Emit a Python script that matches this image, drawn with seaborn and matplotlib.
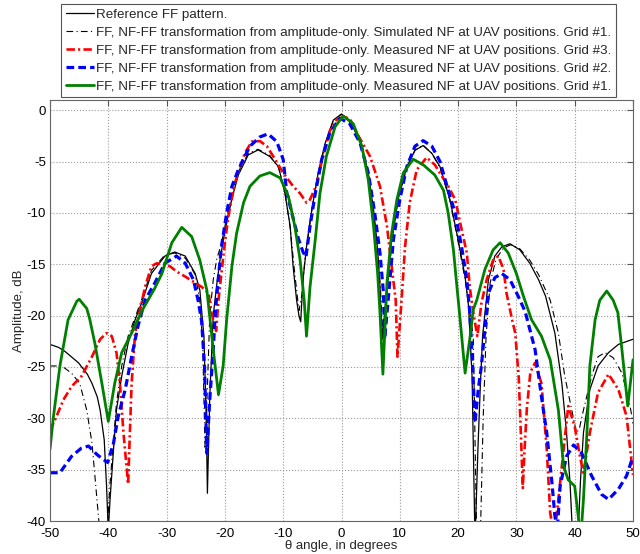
import numpy as np
import pandas as pd
import matplotlib
matplotlib.use("Agg")
import matplotlib.pyplot as plt
import seaborn as sns

# reference far-field pattern (black solid)
ref_theta = [-50, -48.5, -47.4, -45.1, -43.6, -42.8, -41.9, -41.4, -40.7, -40.3, -40.0, -39.7, -39.1, -38.6,
             -37.7, -36.6, -35.4, -34.3, -32.6, -30.3, -28.6, -26.8, -25.1, -24.3, -23.6, -23.2,
             -23.0, -22.6, -22.0, -21.4, -20.8, -20.0, -18.8, -17.7, -16.0, -14.3, -12.3, -10.8,
             -9.7, -8.8, -8.3, -7.7, -7.3, -7.0, -6.6, -6.0, -5.1, -4.0, -2.8, -1.4, 0.0, 1.4,
             3.2, 4.6, 5.5, 6.2, 6.6, 7.0, 7.8, 8.6, 9.7, 11.2, 12.6, 14.0, 15.5, 16.9, 18.6,
             20.0, 21.2, 21.8, 22.4, 22.9, 23.4, 23.8, 24.2, 25.2, 26.3, 27.5, 28.9, 30.6, 32.3,
             33.8, 35.0, 36.6, 37.8, 38.6, 39.2, 39.6, 40.6, 41.0, 41.5, 42.6, 44.0, 45.8, 47.5, 50]
ref_db = [-22.8, -23.1, -23.5, -24.6, -25.7, -26.6, -27.9, -29.2, -32.1, -36.6, -41, -37.9, -33.0, -29.2,
          -25.9, -22.7, -20.4, -18.8, -15.9, -14.2, -13.8, -14.2, -15.9, -17.5, -22.0, -30.0,
          -37.3, -28.0, -20.0, -17.0, -14.4, -11.8, -8.6, -6.3, -4.35, -3.86, -4.5, -5.5,
          -8.1, -11.3, -15.2, -18.5, -20.0, -20.6, -16.5, -13.3, -9.7, -6.1, -3.2, -0.95, -0.36, -1.1,
          -2.9, -6.1, -9.7, -13.6, -17.2, -22.3, -17.2, -12.6, -8.7, -5.5, -3.9, -3.44, -4.2, -5.5, -8.7,
          -12.6, -16.2, -19.1, -26.0, -42, -33.0, -27.0, -22.0, -16.5, -14.2, -13.3, -13.0, -13.6, -14.9,
          -16.5, -18.1, -21.7, -26.6, -31.4, -36.3, -41, -41, -36.0, -31.4, -27.2, -24.9, -23.6, -22.8, -22.3]

# simulated NF, grid #1 (black dash-dot)
sim_theta = [-50, -48.0, -46.3, -44.9, -43.7, -42.8, -42.3, -41.7, -41.3, -40.3, -39.7, -39.1,
             -38.6, -37.7, -36.6, -35.1, -34.0, -32.6, -30.3, -28.6, -26.8, -25.1, -24.3, -23.8,
             -23.4, -23.0, -22.6, -22.0, -21.4, -20.6, -20.0, -18.8, -17.7, -16.0, -14.3, -12.3,
             -10.8, -9.7, -8.8, -8.0, -7.3, -6.8, -6.2, -5.1, -4.0, -2.8, -1.4, 0.0, 1.4, 3.2,
             4.6, 5.5, 6.2, 6.7, 7.1, 7.8, 8.6, 9.7, 11.2, 12.6, 14.0, 15.5, 16.9, 18.6, 20.0,
             21.2, 22.0, 22.6, 23.2, 23.8, 24.3, 24.8, 25.5, 26.5, 27.8, 29.0, 30.6, 32.3, 33.8,
             35.0, 35.8, 37.2, 38.3, 39.5, 40.3, 40.8, 41.5, 42.9, 44.0, 45.2, 46.6, 48.1, 49.5, 50]
sim_db = [-24.9, -24.9, -25.6, -26.6, -29.2, -32.4, -35.6, -39.5, -42, -42, -36.3, -32.1,
          -28.5, -24.9, -22.0, -19.7, -18.0, -15.6, -14.1, -13.9, -14.4, -16.0, -18.5, -23.0,
          -33.0, -27.0, -20.0, -16.5, -14.5, -13.0, -11.3, -8.2, -6.0, -4.2, -3.8, -4.4,
          -5.6, -8.0, -11.5, -16.0, -19.5, -18.0, -14.0, -9.8, -6.2, -3.3, -1.0, -0.4, -1.1, -3.0,
          -6.2, -9.8, -13.8, -17.5, -22.0, -17.5, -12.8, -8.8, -5.6, -3.9, -3.4, -4.2, -5.6, -8.8, -12.8,
          -16.5, -19.6, -22.0, -42, -42, -30.0, -22.0, -16.8, -14.5, -13.4, -13.1, -13.5, -14.6, -16.0,
          -17.5, -18.5, -21.7, -25.9, -29.2, -31.4, -31.0, -29.2, -25.9, -24.0, -23.6, -24.1, -25.6, -28.8, -30.5]

# measured NF, grid #3 (red dash-dot)
g3_theta = [-50, -49.1, -47.7, -46.3, -44.6, -42.8, -41.4, -40.3, -39.4, -38.6, -38.0, -37.4,
            -36.6, -36.3, -36.0, -35.4, -34.3, -33.7, -32.6, -31.7, -30.5, -29.4, -28.3, -26.8,
            -25.4, -24.0, -22.8, -22.3, -21.5, -21.1, -20.6, -20.0, -19.4, -18.3, -16.6, -15.4,
            -14.0, -12.8, -11.7, -10.0, -8.3, -7.1, -6.0, -5.4, -4.3, -3.4, -2.0, -0.8, 0.5, 1.5,
            2.6, 4.9, 6.6, 7.8, 8.6, 9.3, 9.6, 10.3, 10.9, 11.7, 12.9, 14.6, 16.0, 18.3, 19.5,
            20.6, 21.5, 22.0, 22.6, 23.3, 24.0, 24.9, 26.0, 26.9, 27.8, 28.3, 29.3, 29.8, 30.4,
            30.8, 31.1, 31.4, 31.8, 32.4, 33.2, 34.3, 35.2, 35.8, 36.3, 36.8, 37.2, 38.1, 38.9,
            40.0, 40.9, 41.5, 42.6, 44.0, 45.8, 47.5, 48.9, 50]
g3_db = [-31.2, -30.1, -28.2, -26.9, -25.9, -24.0, -22.3, -21.7, -22.0, -23.6, -26.6, -31.4,
         -36.4, -31.4, -26.6, -21.7, -18.8, -17.2, -15.2, -14.9, -15.0, -15.2, -15.7, -16.2,
         -16.7, -17.2, -17.8, -19.7, -21.5, -18.5, -15.9, -12.9, -10.3, -7.1, -4.2, -3.05,
         -3.0, -3.5, -4.5, -6.1, -7.4, -8.1, -9.0, -8.7, -7.3, -5.0, -2.0, -0.9, -0.6, -0.9,
         -2.2, -4.5, -7.4, -11.3, -15.2, -18.5, -24.0, -18.5, -13.3, -9.0, -5.8, -4.6, -5.3, -7.4, -8.7,
         -11.6, -13.9, -17.2, -19.7, -22.0, -18.8, -16.5, -14.6, -14.2, -15.5, -17.8, -20.5, -21.7, -26.0,
         -32.0, -36.8, -33.0, -29.0, -25.5, -24.6, -26.6, -33.0, -39.2, -41, -40.0, -37.9, -33.0, -28.8,
         -30.8, -33.7, -35.3, -31.4, -27.5, -25.7, -27.2, -29.8, -35.5]

# measured NF, grid #2 (blue dashed)
g2_theta = [-50, -48.3, -46.3, -44.6, -43.4, -42.0, -40.9, -40.1, -39.1, -38.3, -37.1, -36.0,
            -34.9, -33.7, -32.0, -30.3, -28.3, -26.8, -25.4, -24.6, -24.0, -23.5, -23.1, -22.6,
            -22.0, -21.6, -21.1, -20.6, -19.7, -18.8, -17.7, -16.6, -15.7, -14.0, -12.6, -11.1,
            -10.0, -9.4, -8.3, -7.4, -6.6, -6.1, -5.4, -4.5, -3.4, -2.0, -0.3, 1.4, 3.2, 4.6,
            5.7, 6.6, 7.2, 7.4, 8.0, 8.9, 10.0, 11.2, 12.6, 14.0, 15.5, 16.9, 18.3, 19.5, 20.6,
            21.5, 22.0, 22.5, 22.9, 23.5, 24.0, 24.9, 25.2, 26.3, 27.5, 28.9, 30.3, 31.5, 33.2,
            34.3, 35.2, 36.1, 36.6, 37.0, 37.5, 38.6, 39.8, 41.2, 42.9, 44.6, 45.8, 47.5, 48.9, 50]
g2_db = [-35.3, -35.3, -33.7, -32.9, -32.7, -33.5, -34.0, -34.3, -32.4, -29.8, -27.2, -24.0,
         -21.0, -18.5, -16.8, -14.9, -14.2, -14.9, -16.5, -18.5, -20.5, -24.9, -33.4, -28.2,
         -23.3, -19.4, -16.2, -13.3, -10.0, -7.4, -5.8, -4.5, -3.5, -2.6, -2.3, -3.05,
         -4.8, -8.0, -10.5, -12.5, -13.8, -14.3, -11.3, -8.1, -4.8, -2.2, -0.78, -1.3, -3.2, -6.1,
         -10.0, -13.9, -17.8, -22.3, -18.5, -12.6, -8.7, -5.5, -3.5, -2.96, -3.5, -5.0, -7.8, -10.0, -13.3,
         -16.5, -19.7, -25.0, -30.4, -27.0, -24.9, -19.4, -17.8, -16.3, -15.9, -16.5, -18.1, -19.6, -23.3,
         -27.9, -31.4, -36.3, -39.5, -41, -36.6, -33.7, -32.6, -33.4, -35.6, -37.4, -37.9, -36.9, -35.6, -33.7]

# measured NF, grid #1 (green solid)
g1_theta = [-50, -49.4, -48.3, -46.9, -45.4, -45.0, -43.7, -43.2, -42.3, -41.1, -40.0, -38.9,
            -37.7, -36.0, -34.3, -33.1, -32.0, -30.8, -29.1, -27.4, -25.7, -24.3, -23.1, -22.6,
            -22.0, -21.1, -20.3, -19.7, -18.8, -18.0, -16.8, -15.7, -14.0, -12.3, -10.5, -9.1,
            -8.0, -7.1, -6.4, -6.0, -5.4, -4.5, -3.7, -2.6, -1.1, 0.3, 2.0, 3.5, 4.6, 5.5, 6.2,
            6.6, 7.1, 7.8, 8.6, 9.5, 10.6, 12.3, 14.0, 16.0, 17.5, 18.3, 19.2, 19.8, 20.3, 21.2,
            22.0, 22.6, 23.2, 24.6, 26.0, 27.2, 28.6, 30.0, 31.2, 32.6, 34.3, 35.8, 37.2, 38.1,
            38.9, 40.0, 40.6, 41.0, 41.5, 42.1, 42.6, 43.5, 44.3, 45.5, 46.6, 47.4, 48.1, 49.1, 50]
g1_db = [-33.0, -29.8, -24.9, -20.4, -18.6, -18.4, -19.3, -20.3, -22.7, -26.6, -30.3, -26.6,
         -23.6, -21.7, -19.6, -18.4, -17.3, -15.9, -12.9, -11.4, -12.3, -14.6, -17.5, -20.1,
         -23.3, -27.7, -24.9, -20.4, -15.2, -12.0, -9.0, -7.4, -6.4, -6.07, -6.6, -8.4,
         -11.3, -14.6, -18.5, -22.0, -17.2, -12.6, -8.1, -4.5, -1.6, -0.55, -1.3, -3.5, -6.8, -11.3, -15.9,
         -19.7, -25.7, -16.8, -12.0, -8.7, -6.1, -4.77, -5.3, -6.3, -7.8, -10.0, -13.6, -17.2, -20.1, -25.6,
         -22.3, -19.4, -18.5, -15.5, -13.6, -12.9, -13.9, -15.9, -18.1, -20.4, -22.0, -24.3, -29.2, -34.7,
         -36.0, -36.6, -39.5, -42, -37.9, -31.4, -24.9, -20.4, -18.5, -17.6, -18.5, -19.7, -23.3, -28.8, -24.3]

labels = [
    "Reference FF pattern.",
    "FF, NF-FF transformation from amplitude-only. Simulated NF at UAV positions. Grid #1.",
    "FF, NF-FF transformation from amplitude-only. Measured NF at UAV positions. Grid #3.",
    "FF, NF-FF transformation from amplitude-only. Measured NF at UAV positions. Grid #2.",
    "FF, NF-FF transformation from amplitude-only. Measured NF at UAV positions. Grid #1.",
]

sns.set_style("white")
plt.rcParams["font.family"] = ["Liberation Sans", "DejaVu Sans"]
plt.rcParams["axes.unicode_minus"] = False
plt.rcParams["xtick.direction"] = "in"
plt.rcParams["ytick.direction"] = "in"

fig = plt.figure(figsize=(6.4, 5.54), dpi=100)
ax = fig.add_axes([50 / 640, 1 - 521 / 554, 583 / 640, 421 / 554])

series = [
    (ref_theta, ref_db, dict(color="black", linewidth=0.9, linestyle="-")),
    (sim_theta, sim_db, dict(color="black", linewidth=0.8, dashes=(6, 3, 1, 3))),
    (g3_theta, g3_db, dict(color="red", linewidth=1.9, dashes=(3.2, 1.2, 0.8, 1.2))),
    (g2_theta, g2_db, dict(color="blue", linewidth=2.3, dashes=(2.4, 1.3))),
    (g1_theta, g1_db, dict(color="green", linewidth=2.0, linestyle="-")),
]
for (th, db, style), lab in zip(series, labels):
    df = pd.DataFrame({"theta": th, "dB": db})
    sns.lineplot(data=df, x="theta", y="dB", ax=ax, label=lab, legend=False,
                 estimator=None, sort=False, **style)

ax.set_xlim(-50, 50)
ax.set_ylim(-40, 1)
ax.set_xticks(np.arange(-50, 51, 10))
ax.set_yticks(np.arange(-40, 1, 5))
ax.grid(True, linestyle=":", color="#9a9a9a", linewidth=0.8)
ax.tick_params(labelsize=9.5, length=4, top=True, right=True, colors="#555555",
               labelcolor="black")
ax.tick_params(axis="x", pad=5)
ax.tick_params(axis="y", pad=3)
for sp in ax.spines.values():
    sp.set_color("#666666")
    sp.set_linewidth(0.8)
ax.set_xlabel("\u03b8 angle, in degrees", fontsize=9.5, labelpad=0)
ax.set_ylabel("Amplitude, dB", fontsize=9.5, labelpad=1)

handles, labs = ax.get_legend_handles_labels()
leg = fig.legend(handles, labs, loc="upper left", bbox_to_anchor=(61 / 640, 1 - 4 / 554),
                 fontsize=9.6, frameon=True, fancybox=False, framealpha=1,
                 edgecolor="#555555", handlelength=2.1, handletextpad=0.15,
                 labelspacing=0.42, borderpad=0.35, borderaxespad=0)
leg.get_frame().set_linewidth(0.8)

fig.savefig("out.png", dpi=100, facecolor="white")
